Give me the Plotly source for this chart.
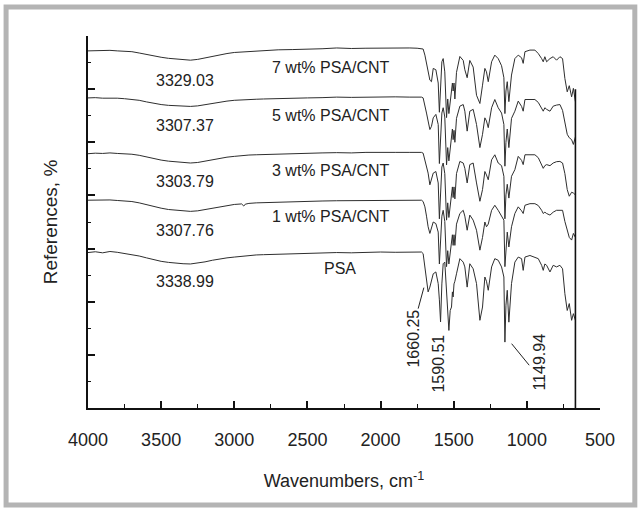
import plotly.graph_objects as go

# ---------------- data ----------------
wavenumber = [4000, 3950, 3900, 3850, 3800, 3750, 3700, 3650, 3600, 3550, 3500, 3450, 3400, 3350,
              3300, 3250, 3200, 3150, 3100, 3050, 3000, 2950, 2935, 2925, 2900, 2850, 2800, 2700,
              2600, 2500, 2400, 2300, 2200, 2100, 2000, 1900, 1800, 1750,
              1720, 1709, 1697, 1686, 1675, 1663, 1652, 1640, 1622, 1606, 1598, 1590, 1581, 1572,
              1561, 1549, 1541, 1533, 1524, 1515, 1509, 1504, 1498, 1492, 1481, 1458, 1435, 1424,
              1408, 1390, 1367, 1344, 1321, 1303, 1287, 1276, 1264, 1241, 1219, 1196, 1173, 1157,
              1150, 1143, 1134, 1123, 1105, 1082, 1059, 1036, 1025, 1013, 979, 945, 922, 899,
              888, 877, 865, 842, 820, 797, 774, 756, 740, 724, 710, 694, 682, 668]

psa_cnt_7 = [13.44, 13.45, 13.44, 13.46, 13.44, 13.43, 13.41, 13.36, 13.30, 13.24, 13.20, 13.16, 13.13, 13.10,
             13.09, 13.12, 13.18, 13.24, 13.30, 13.34, 13.38, 13.40, 13.41, 13.41, 13.42, 13.44, 13.46, 13.48,
             13.49, 13.50, 13.52, 13.55, 13.53, 13.54, 13.55, 13.54, 13.55, 13.54,
             13.53, 13.51, 13.28, 12.98, 12.65, 12.34, 12.28, 12.78, 12.73, 12.23, 11.13, 12.23, 13.03, 13.15,
             12.65, 10.93, 11.63, 11.08, 11.53, 11.78, 12.23, 11.93, 12.23, 11.63, 12.63, 13.23, 13.08, 12.73,
             12.43, 13.08, 12.83, 11.77, 11.46, 12.15, 12.78, 12.65, 12.28, 13.03, 13.28, 13.15, 12.88, 12.43,
             11.08, 11.93, 12.28, 11.53, 12.53, 13.15, 13.28, 13.18, 12.97, 13.41, 13.47, 13.47, 13.34, 13.15,
             13.03, 13.22, 13.03, 13.15, 13.22, 13.09, 13.22, 13.15, 12.40, 11.90, 12.13, 11.71, 12.03, 11.53]

psa_cnt_5 = [11.67, 11.68, 11.66, 11.67, 11.66, 11.64, 11.62, 11.58, 11.52, 11.46, 11.42, 11.39, 11.37, 11.36,
             11.35, 11.37, 11.42, 11.47, 11.52, 11.55, 11.58, 11.60, 11.60, 11.61, 11.61, 11.62, 11.63, 11.65,
             11.66, 11.67, 11.68, 11.70, 11.69, 11.70, 11.70, 11.71, 11.70, 11.70,
             11.70, 11.67, 11.42, 11.10, 10.80, 10.48, 10.60, 10.92, 11.05, 10.67, 9.20, 10.30, 11.10, 11.30,
             10.95, 9.15, 9.80, 9.30, 9.80, 10.17, 10.50, 10.10, 10.45, 10.00, 10.90, 11.36, 11.42, 11.17,
             10.42, 11.17, 11.24, 10.67, 9.80, 10.30, 10.92, 10.80, 10.55, 11.30, 11.61, 11.30, 11.10, 10.67,
             9.10, 10.00, 10.50, 9.80, 10.90, 11.17, 11.55, 11.35, 11.17, 11.61, 11.61, 11.61, 11.50, 11.30,
             11.17, 11.30, 11.24, 11.17, 11.36, 11.40, 11.42, 11.20, 10.67, 10.30, 10.17, 10.10, 9.92, 10.20]

psa_cnt_3 = [9.57, 9.59, 9.58, 9.60, 9.58, 9.57, 9.55, 9.51, 9.45, 9.38, 9.33, 9.29, 9.26, 9.24,
             9.22, 9.24, 9.29, 9.35, 9.40, 9.44, 9.47, 9.50, 9.51, 9.51, 9.52, 9.53, 9.54, 9.56,
             9.58, 9.59, 9.60, 9.61, 9.60, 9.62, 9.61, 9.62, 9.62, 9.62,
             9.62, 9.59, 9.34, 9.07, 8.84, 8.40, 8.62, 8.84, 8.90, 8.47, 7.12, 8.32, 9.07, 9.22,
             8.82, 7.07, 7.72, 7.17, 7.62, 7.96, 8.32, 7.92, 8.32, 7.87, 8.82, 9.28, 9.22, 9.02,
             8.47, 9.16, 9.22, 8.47, 7.78, 8.22, 8.90, 8.77, 8.59, 9.34, 9.53, 9.22, 9.12, 8.72,
             7.12, 8.02, 8.42, 7.90, 8.72, 8.97, 9.47, 9.32, 9.16, 9.53, 9.53, 9.53, 9.42, 9.16,
             9.02, 9.12, 9.16, 9.12, 9.22, 9.27, 9.28, 9.22, 8.82, 8.22, 7.97, 8.12, 8.09, 8.02]

psa_cnt_1 = [7.82, 7.83, 7.82, 7.83, 7.81, 7.80, 7.77, 7.72, 7.65, 7.58, 7.52, 7.47, 7.44, 7.41,
             7.40, 7.42, 7.47, 7.53, 7.58, 7.62, 7.66, 7.68, 7.60, 7.67, 7.70, 7.72, 7.73, 7.75,
             7.77, 7.78, 7.79, 7.80, 7.80, 7.81, 7.82, 7.81, 7.82, 7.82,
             7.82, 7.77, 7.57, 7.22, 6.82, 6.57, 6.77, 7.00, 6.94, 6.62, 5.42, 6.52, 7.22, 7.44,
             7.02, 5.32, 5.92, 5.42, 5.82, 6.06, 6.52, 6.12, 6.52, 6.12, 6.92, 7.32, 7.44, 7.22,
             6.69, 7.26, 7.07, 6.69, 5.94, 6.42, 7.00, 6.82, 6.92, 7.44, 7.63, 7.44, 7.22, 7.07,
             5.32, 6.12, 6.62, 6.06, 6.82, 7.32, 7.57, 7.42, 7.32, 7.63, 7.69, 7.69, 7.62, 7.44,
             7.32, 7.37, 7.32, 7.26, 7.37, 7.44, 7.44, 7.44, 7.02, 6.69, 6.42, 6.32, 6.57, 6.42]

psa = [5.85, 5.88, 5.84, 5.89, 5.86, 5.82, 5.78, 5.72, 5.65, 5.58, 5.52, 5.48, 5.45, 5.43,
       5.42, 5.45, 5.50, 5.56, 5.61, 5.65, 5.68, 5.71, 5.72, 5.73, 5.74, 5.76, 5.77, 5.79,
       5.81, 5.82, 5.83, 5.85, 5.84, 5.86, 5.87, 5.86, 5.87, 5.88,
       5.87, 5.81, 5.31, 4.68, 4.37, 4.55, 4.80, 5.05, 5.12, 4.68, 4.07, 3.24, 4.67, 5.43,
       5.49, 4.43, 3.57, 2.92, 3.67, 3.80, 4.37, 4.18, 4.67, 4.77, 5.05, 5.62, 5.49, 5.31,
       4.55, 5.43, 5.24, 4.68, 3.30, 3.80, 4.93, 4.77, 4.43, 5.31, 5.62, 5.56, 5.31, 4.93,
       2.48, 3.87, 4.43, 3.23, 4.68, 5.49, 5.68, 5.62, 5.18, 5.68, 5.74, 5.68, 5.62, 5.37,
       5.18, 5.42, 5.37, 5.12, 5.37, 5.31, 5.37, 5.24, 4.30, 3.67, 3.93, 3.30, 3.55, 3.30]

series = [psa_cnt_7, psa_cnt_5, psa_cnt_3, psa_cnt_1, psa]
series_names = ["7 wt% PSA/CNT", "5 wt% PSA/CNT", "3 wt% PSA/CNT", "1 wt% PSA/CNT", "PSA"]

# OH band peak labels and sample labels
oh_peak_labels = ["3329.03", "3307.37", "3303.79", "3307.76", "3338.99"]
oh_peak_label_y = [12.33, 10.64, 8.53, 6.69, 4.77]
sample_label_y = [12.82, 11.02, 8.94, 7.19, 5.26]

# fingerprint peak labels
fp_peak_labels = ["1660.25", "1590.51", "1149.94"]

# spectrometer cut-off marker
cutoff_wn = [668, 668]
cutoff_y = [0, 12.0]

# ---------------- figure ----------------
LINE = "#2e2e2e"
FONT = "Liberation Sans, Arial, sans-serif"

fig = go.Figure()
for name, ys in zip(series_names, series):
    fig.add_trace(go.Scatter(x=wavenumber, y=ys, mode="lines", name=name,
                             line=dict(color=LINE, width=1), showlegend=False))

fig.add_trace(go.Scatter(x=cutoff_wn, y=cutoff_y, mode="lines", name="cut-off",
                         line=dict(color="#111", width=1.6), showlegend=False))

ann = []
for lab, y in zip(oh_peak_labels, oh_peak_label_y):
    ann.append(dict(x=3340, y=y, text=lab, showarrow=False, xanchor="center", yanchor="middle",
                    font=dict(size=16, color="#222", family=FONT)))
for lab, y in zip(series_names, sample_label_y):
    if lab == "PSA":
        ann.append(dict(x=2279, y=y, text=lab, showarrow=False, xanchor="center", yanchor="middle",
                        font=dict(size=16, color="#222", family=FONT)))
    else:
        ann.append(dict(x=2758, y=y, text=lab, showarrow=False, xanchor="left", yanchor="middle",
                        font=dict(size=16, color="#222", family=FONT)))

fp_pos = [(1777, 2.62), (1606, 1.68), (915, 1.72)]
for lab, (x, y) in zip(fp_peak_labels, fp_pos):
    ann.append(dict(x=x, y=y, text=lab, showarrow=False, textangle=-90, xanchor="center",
                    yanchor="middle", font=dict(size=16, color="#222", family=FONT)))

shapes = [
    dict(type="line", xref="x", yref="y", x0=1743, y0=3.74, x1=1704, y1=4.53,
         line=dict(color="#222", width=1)),
    dict(type="line", xref="x", yref="y", x0=984, y0=1.61, x1=1104, y1=2.42,
         line=dict(color="#222", width=1)),
    dict(type="rect", xref="paper", yref="paper", x0=-0.160, x1=1.068, y0=-0.2608, y1=1.078,
         line=dict(color="#b4b4b4", width=5), fillcolor="rgba(0,0,0,0)", layer="below"),
]

fig.update_layout(
    width=639, height=508,
    margin=dict(l=88, r=39, t=36, b=100),
    paper_bgcolor="white", plot_bgcolor="white",
    font=dict(family=FONT, color="#222"),
    annotations=ann, shapes=shapes,
)

fig.update_xaxes(
    range=[4000, 500], autorange=False,
    showline=True, linecolor="#111", linewidth=2, mirror=False,
    showgrid=False, zeroline=False,
    ticks="inside", ticklen=7, tickwidth=1.6, tickcolor="#111",
    tick0=500, dtick=500,
    minor=dict(ticks="inside", ticklen=4, tickwidth=1.4, tickcolor="#111", dtick=250, showgrid=False),
    tickfont=dict(size=18, family=FONT, color="#222"),
    ticklabelstandoff=14,
    title=dict(text="Wavenumbers, cm<sup>-1</sup>", font=dict(size=18, family=FONT, color="#222"),
               standoff=26),
)
fig.update_yaxes(
    range=[0, 14], autorange=False,
    showline=True, linecolor="#111", linewidth=2, mirror=False,
    showgrid=False, zeroline=False,
    ticks="inside", ticklen=7, tickwidth=1.6, tickcolor="#111",
    tick0=0, dtick=2, showticklabels=False,
    minor=dict(ticks="inside", ticklen=3, tickwidth=1.4, tickcolor="#111", dtick=1, showgrid=False),
    title=dict(text="References, %", font=dict(size=19, family=FONT, color="#222"), standoff=23),
)

fig.write_html("out.html", config={"displayModeBar": False},
               post_script="document.body.style.margin='0px';document.body.style.padding='0px';")
